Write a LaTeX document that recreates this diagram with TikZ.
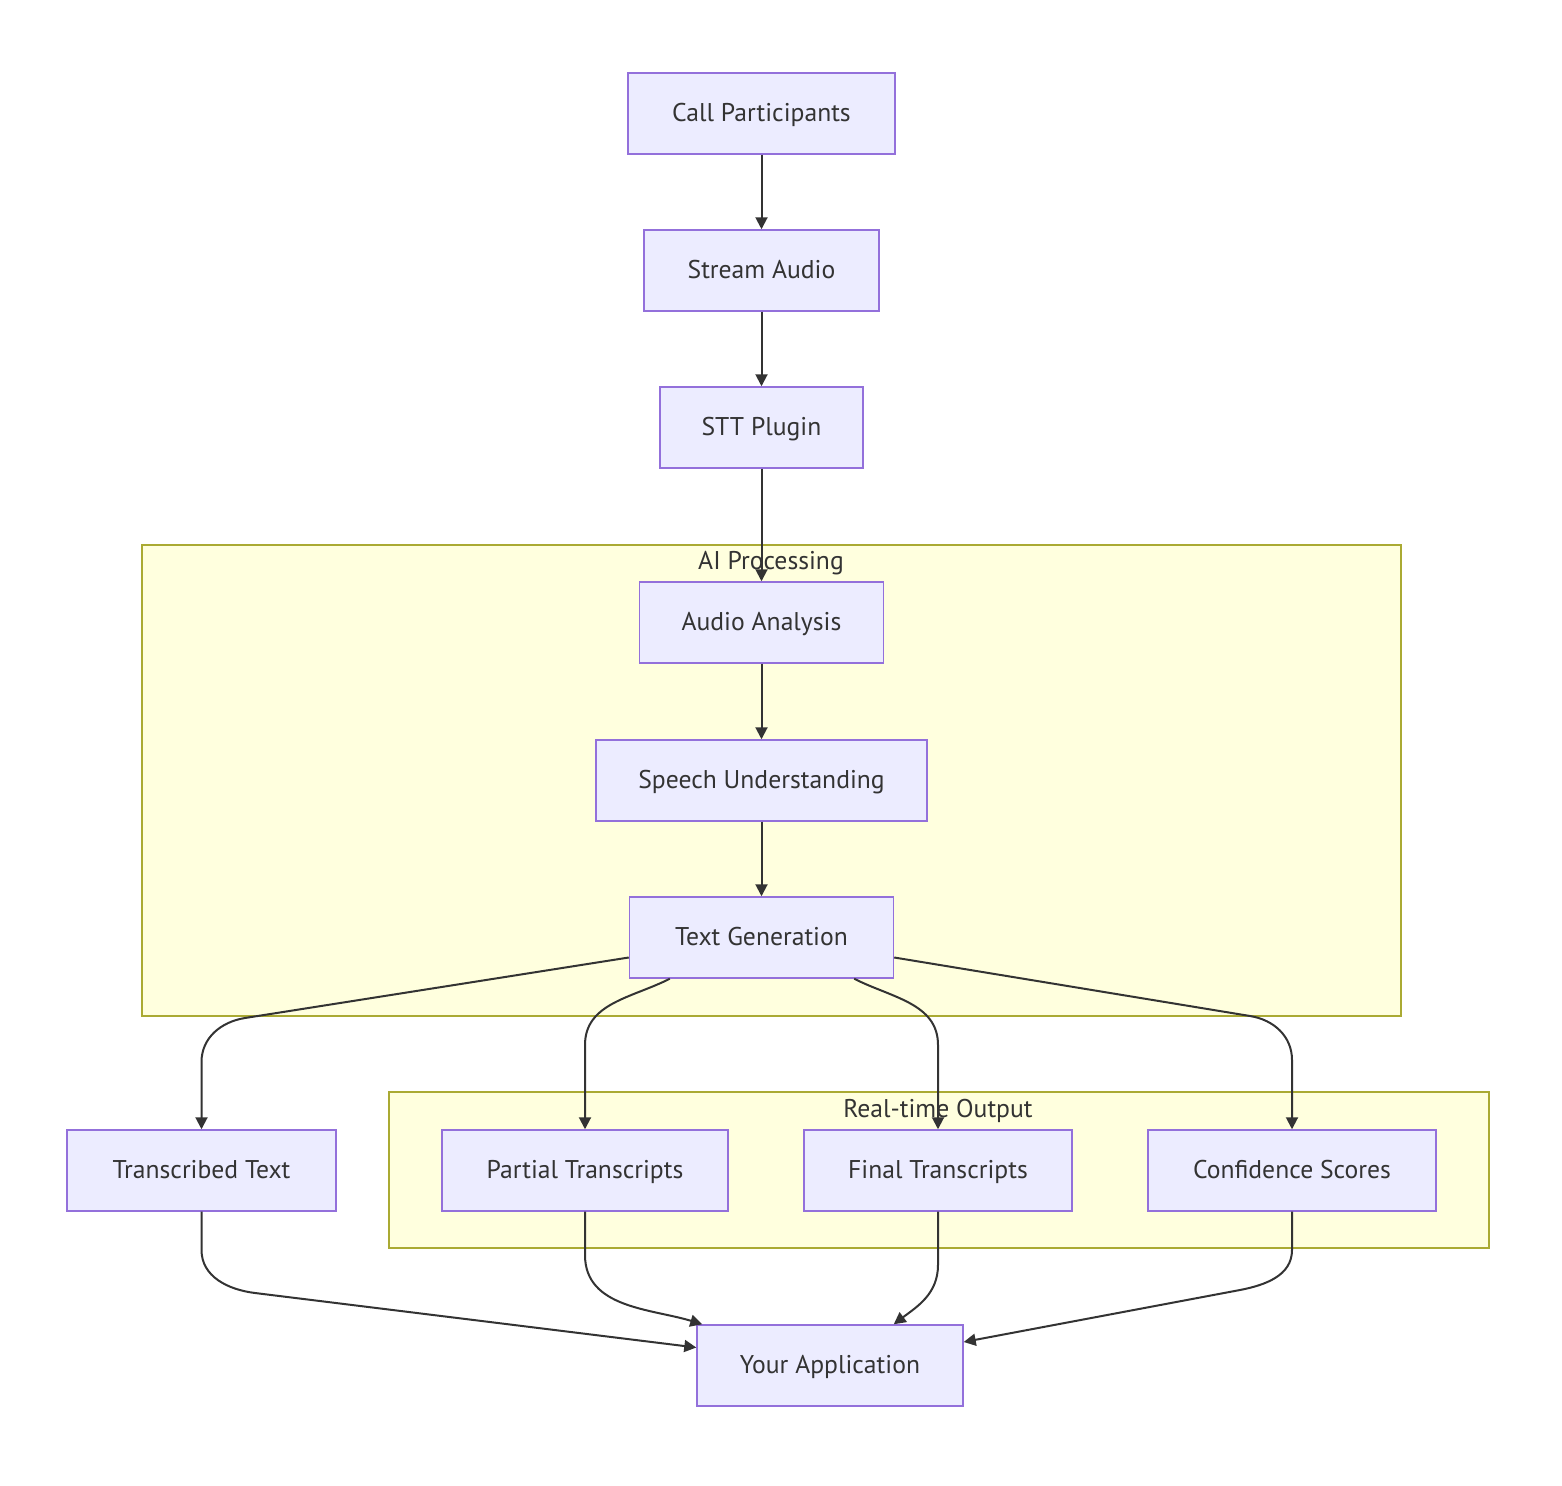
\documentclass[tikz,border=0pt]{standalone}
\usepackage{fontspec}
\setmainfont{PT Sans}
\usetikzlibrary{arrows.meta}
\definecolor{nodefill}{HTML}{ECECFF}
\definecolor{nodeline}{HTML}{9370DB}
\definecolor{groupfill}{HTML}{FFFFDE}
\definecolor{groupline}{HTML}{AAAA33}
\definecolor{ink}{HTML}{333333}
\tikzset{
  box/.style={draw=nodeline, fill=nodefill, line width=0.03cm, minimum height=1.62cm, inner sep=0pt, text=ink, text depth=0.25ex, font=\fontsize{14.6}{17}\selectfont},
  group/.style={draw=groupline, fill=groupfill, line width=0.03cm},
  grouplabel/.style={text=ink, inner sep=0pt, font=\fontsize{14.6}{17}\selectfont},
  flow/.style={draw=ink, line width=0.04cm, -{Triangle[length=0.24cm,width=0.24cm]}},
}
\begin{document}
\begin{tikzpicture}[x=0.02cm, y=-0.02cm]
		\useasboundingbox (0,0) rectangle (1562,1486);

		% subgraphs
		\draw[group] (142,545) rectangle (1401,1016);
		\draw[group] (389,1092) rectangle (1489,1248);
		\node[grouplabel] (ailabel) at (771,563) {AI Processing};
		\node[grouplabel] (outlabel) at (938,1111) {Real-time Output};

		% pipeline
		\node[box, minimum width=5.34cm] (call) at (761.5,113.5) {Call Participants};
		\node[box, minimum width=4.70cm] (stream) at (761.5,270.5) {Stream Audio};
		\node[box, minimum width=4.06cm] (stt) at (761.5,427.5) {STT Plugin};
		\node[box, minimum width=4.88cm] (analysis) at (761.5,622.5) {Audio Analysis};
		\node[box, minimum width=6.62cm] (speech) at (761.5,780.5) {Speech Understanding};
		\node[box, minimum width=5.28cm] (textgen) at (761.5,937.5) {Text Generation};

		% outputs
		\node[box, minimum width=5.38cm] (transcribed) at (201.5,1170.5) {Transcribed Text};
		\node[box, minimum width=5.72cm] (partial) at (585,1170.5) {Partial Transcripts};
		\node[box, minimum width=5.36cm] (final) at (938,1170.5) {Final Transcripts};
		\node[box, minimum width=5.76cm] (confidence) at (1292,1170.5) {Confidence Scores};
		\node[box, minimum width=5.32cm] (app) at (830,1365.5) {Your Application};

		\draw[flow] (call) -- (stream);
		\draw[flow] (stream) -- (stt);
		\draw[flow] (stt) -- (analysis);
		\draw[flow] (analysis) -- (speech);
		\draw[flow] (speech) -- (textgen);

		\draw[flow] ([yshift=-0.4cm]textgen.west) -- (245,1018) to[out=189,in=90] (201.5,1062) -- (transcribed.north);
		\draw[flow] ([xshift=0.82cm]textgen.south west) to[out=207,in=90] (585,1045) -- (partial.north);
		\draw[flow] ([xshift=-0.8cm]textgen.south east) to[out=-27,in=90] (938,1045) -- (final.north);
		\draw[flow] ([yshift=-0.4cm]textgen.east) -- (1250,1016) to[out=-9,in=90] (1292,1060) -- (confidence.north);

		\draw[flow] (transcribed.south) -- (201.5,1250) to[out=-90,in=173] (255,1293) -- ([yshift=0.36cm]app.west);
		\draw[flow] (partial.south) -- (585,1255) to[out=-90,in=163] ([xshift=0.12cm]app.north west);
		\draw[flow] (final.south) -- (938,1265) to[out=-90,in=37] ([xshift=-1.4cm]app.north east);
		\draw[flow] (confidence.south) -- (1292,1250) to[out=-90,in=11] (1240,1290) -- ([yshift=0.47cm]app.east);
\end{tikzpicture}
\end{document}
